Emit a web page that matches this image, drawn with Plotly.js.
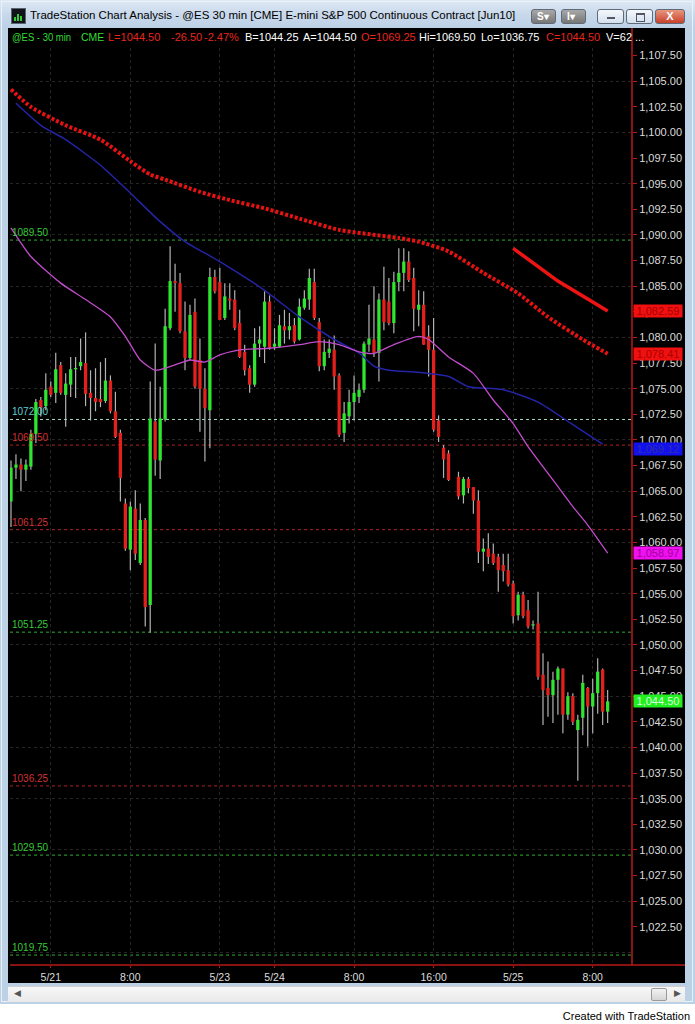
<!DOCTYPE html>
<html>
<head>
<meta charset="utf-8">
<script src="https://cdn.plot.ly/plotly-3.0.1.min.js"></script>
<style>
  html,body{margin:0;padding:0;}
  body{width:695px;height:1024px;background:#ffffff;position:relative;overflow:hidden;font-family:"Liberation Sans",Arial,sans-serif;}
  #frame{position:absolute;left:0;top:0;width:695px;height:1004px;background:linear-gradient(#dfe9f4 0px,#c9d9eb 14px,#bcd0e6 28px,#bcd0e6 100%);}
  #frame2{position:absolute;left:1px;top:1px;width:692px;height:1001px;border:1px solid #e9f1f9;box-sizing:border-box;}
  #chart{position:absolute;left:8px;top:28px;width:677px;height:955px;background:#000;}
  #title{position:absolute;left:30px;top:9px;font-size:11.5px;color:#000;white-space:nowrap;}
  #icon{position:absolute;left:11px;top:8px;width:13px;height:14px;background:#101418;border:1px solid #5a6470;}
  #icon i{position:absolute;bottom:2px;width:2px;background:#3c3;}
  .btn{position:absolute;top:9px;height:15px;border:1px solid #5e6a78;border-radius:3px;box-sizing:border-box;}
  .btnd{background:linear-gradient(#a8a8a8,#767676);color:#fff;font-size:10px;font-weight:bold;line-height:13px;padding-left:5px;}
  .btnw{background:linear-gradient(#f4f8fc,#d3e0ee);}
  #info{position:absolute;left:8px;top:28px;width:624px;height:19px;z-index:5;font-size:11px;line-height:19px;white-space:nowrap;}
  #info span{position:absolute;top:0;transform-origin:0 50%;}
  #scroll{position:absolute;left:8px;top:986px;width:677px;height:16px;background:linear-gradient(#f7f7f7,#e9e9e9);border-top:1px solid #d0d0d0;box-sizing:border-box;}
  #thumb{position:absolute;left:643px;top:1px;width:16px;height:13px;background:linear-gradient(#f2f2f2,#d6d6d6);border:1px solid #9a9a9a;border-radius:2px;box-sizing:border-box;}
  #footer{position:absolute;right:5px;top:1010px;font-size:11px;color:#000;white-space:nowrap;}
</style>
</head>
<body>
<div id="frame"><div id="frame2"></div></div>
<div id="icon"><i style="left:2px;height:4px"></i><i style="left:5px;height:7px"></i><i style="left:8px;height:5px"></i></div>
<div id="title">TradeStation Chart Analysis - @ES 30 min [CME] E-mini S&amp;P 500 Continuous Contract [Jun10]</div>
<div class="btn btnd" style="left:531px;width:25px;">S&#9662;</div>
<div class="btn btnd" style="left:561px;width:25px;">I&#9662;</div>
<div class="btn btnw" style="left:597px;width:27px;"><div style="position:absolute;left:9px;top:7px;width:8px;height:2px;background:#556;"></div></div>
<div class="btn btnw" style="left:626px;width:27px;"><div style="position:absolute;left:9px;top:3px;width:7px;height:6px;border:1px solid #556;border-top-width:2px;"></div></div>
<div class="btn" style="left:655px;width:30px;background:linear-gradient(#e9967e,#c8402a);"><div style="position:absolute;left:0;width:100%;top:0;text-align:center;color:#fff;font-size:11px;font-weight:bold;line-height:13px;">X</div></div>
<div id="chart"></div>
<div id="info"></div>
<div id="scroll"><div style="position:absolute;left:6px;top:1px;font-size:9px;color:#555;">&#9664;</div><div id="thumb"></div><div style="position:absolute;left:666px;top:1px;font-size:9px;color:#555;">&#9654;</div></div>
<div id="footer">Created with TradeStation</div>
<script>
// ---------------- DATA ----------------
// OHLC of the 30-minute bars (in order)
const opens  = [1064.0,1067.3,1067.6,1067.1,1067.4,1070.6,1073.9,1073.3,1075.2,1074.6,
  1077.3,1074.4,1075.4,1076.9,1077.2,1077.5,1074.6,1074.1,1074.0,1073.8,
  1075.8,1072.8,1070.7,1063.8,1059.3,1063.3,1058.0,1062.2,1053.9,1071.8,
  1068.0,1072.0,1080.9,1085.5,1085.3,1080.6,1078.0,1082.5,1077.8,1075.0,
  1072.9,1085.9,1085.4,1081.9,1083.8,1083.7,1081.4,1078.6,1077.0,1075.4,
  1079.4,1079.1,1083.5,1079.1,1079.1,1081.1,1080.7,1081.2,1079.8,1082.9,
  1083.7,1085.4,1081.5,1077.2,1078.5,1078.8,1076.3,1070.7,1072.3,1073.7,
  1074.2,1074.9,1079.3,1079.8,1078.5,1083.7,1083.5,1081.4,1085.4,1086.3,
  1087.4,1085.8,1082.7,1083.2,1080.1,1078.8,1071.9,1069.25,1068.7,1066.4,
  1064.6,1066.2,1065.4,1064.1,1059.1,1059.4,1058.9,1058.6,1057.8,1057.3,
  1056.0,1052.9,1054.9,1053.4,1051.9,1052.1,1047.1,1045.8,1045.1,1046.6,
  1047.7,1043.2,1045.0,1041.7,1042.9,1045.8,1044.0,1045.3,1047.6,1043.5];
const highs  = [1068.0,1068.6,1068.2,1068.1,1071.0,1074.0,1074.2,1076.5,1075.7,1078.5,
  1077.6,1076.5,1078.1,1078.1,1079.9,1080.5,1076.8,1077.0,1077.6,1078.0,
  1076.3,1074.7,1071.0,1064.3,1064.0,1065.1,1063.8,1062.4,1075.7,1079.4,
  1075.2,1082.8,1088.9,1087.2,1086.3,1083.5,1083.2,1083.8,1079.9,1077.0,
  1086.8,1086.6,1086.8,1085.3,1085.3,1084.6,1082.7,1079.3,1077.3,1080.9,
  1081.1,1084.5,1084.1,1080.9,1082.2,1082.7,1082.4,1081.9,1083.8,1084.6,
  1086.7,1086.7,1081.9,1079.8,1079.8,1080.2,1076.5,1073.7,1074.9,1076.3,
  1075.5,1079.6,1083.2,1085.0,1084.3,1086.9,1085.8,1086.4,1088.7,1088.7,
  1088.4,1086.8,1084.6,1084.5,1081.2,1081.9,1072.4,1069.5,1069.0,1066.9,
  1066.4,1066.4,1065.4,1065.1,1060.4,1060.9,1059.9,1058.9,1058.9,1058.9,
  1056.3,1055.2,1055.2,1054.4,1052.4,1055.2,1049.2,1048.4,1047.4,1047.9,
  1047.7,1045.4,1045.3,1043.2,1047.1,1045.9,1046.7,1048.7,1047.7,1045.6];
const lows   = [1061.5,1066.2,1065.0,1066.0,1067.1,1069.7,1072.3,1072.9,1074.2,1073.6,
  1074.4,1071.3,1074.2,1074.1,1076.8,1073.3,1071.9,1072.8,1073.2,1073.6,
  1072.6,1070.2,1064.0,1059.2,1057.3,1058.3,1057.8,1051.8,1051.2,1066.5,
  1066.2,1071.8,1080.7,1082.5,1080.4,1076.8,1077.8,1075.0,1070.8,1067.9,
  1069.2,1084.3,1081.7,1081.7,1082.7,1080.7,1078.0,1076.3,1074.6,1075.2,
  1078.1,1077.5,1078.8,1078.8,1079.0,1079.4,1079.8,1079.4,1079.7,1082.7,
  1082.7,1081.7,1076.7,1076.8,1078.0,1074.9,1070.3,1069.8,1071.6,1071.9,
  1073.6,1074.6,1078.6,1078.1,1075.7,1080.7,1081.2,1080.4,1084.5,1084.5,
  1085.4,1080.6,1081.1,1079.3,1076.2,1070.8,1069.8,1066.3,1066.0,1064.2,
  1063.8,1064.8,1062.8,1058.0,1057.2,1057.9,1057.8,1055.2,1056.2,1055.7,
  1052.1,1052.4,1052.6,1051.6,1051.5,1046.6,1042.2,1043.0,1042.4,1043.2,
  1041.4,1042.7,1042.2,1036.75,1041.2,1040.1,1041.4,1043.3,1042.2,1042.4];
const closes = [1067.3,1067.6,1067.1,1067.6,1070.6,1073.7,1073.1,1074.9,1074.4,1076.9,
  1074.6,1075.5,1076.9,1077.0,1077.6,1074.5,1074.1,1073.7,1073.7,1075.8,
  1072.8,1070.3,1066.3,1059.4,1063.5,1058.9,1062.2,1053.7,1072.1,1068.1,
  1072.1,1081.1,1085.5,1085.3,1080.6,1078.0,1082.2,1075.2,1075.0,1073.1,
  1085.9,1084.5,1081.7,1084.0,1083.6,1080.9,1078.1,1076.8,1075.4,1079.4,
  1079.8,1083.5,1079.0,1079.4,1081.2,1080.7,1081.1,1079.6,1083.0,1083.8,
  1085.8,1081.9,1077.2,1078.6,1078.9,1076.2,1070.5,1072.6,1073.7,1074.6,
  1074.9,1079.4,1079.9,1078.5,1083.7,1081.5,1081.4,1085.4,1086.3,1087.4,
  1085.6,1082.8,1083.2,1079.3,1078.8,1071.0,1070.3,1068.1,1066.1,1064.5,
  1066.2,1065.3,1064.1,1059.1,1059.4,1058.6,1058.0,1057.3,1057.2,1055.9,
  1052.8,1054.9,1052.8,1051.8,1052.0,1046.9,1045.6,1045.1,1046.6,1047.7,
  1043.2,1045.0,1042.5,1042.7,1046.3,1044.0,1045.3,1047.4,1043.5,1044.50];
// session break: one empty bar slot after this bar
const sessionBreakAfter = 88;

// x-axis labels (bar slot -> label)
const xTickSlots  = [8, 24, 42, 53, 69, 85, 101, 117];
const xTickLabels = ['5/21', '8:00', '5/23', '5/24', '8:00', '16:00', '5/25', '8:00'];

// price-axis labels
const yTickValues = [1022.5,1025,1027.5,1030,1032.5,1035,1037.5,1040,1042.5,1045,1047.5,1050,
  1052.5,1055,1057.5,1060,1062.5,1065,1067.5,1070,1072.5,1075,1077.5,1080,1082.5,1085,
  1087.5,1090,1092.5,1095,1097.5,1100,1102.5,1105,1107.5];

// slow moving average (red dotted), read at bar slots
const slowMaSlots  = [0, 4, 11, 18, 24, 28, 31, 38, 44, 51, 58, 66, 78, 82, 88, 95, 102, 108, 115, 120];
const slowMaValues = [1104.2,1102.5,1100.7,1099.3,1097.2,1095.9,1095.4,1094.2,1093.4,1092.6,
  1091.6,1090.5,1089.7,1089.35,1088.4,1086.3,1084.3,1082.0,1079.8,1078.41];

// short red trend segment
const trendSlots  = [101, 110, 120];
const trendValues = [1088.7, 1085.5, 1082.59];

// blue moving average
const blueMaSlots  = [1, 6, 11, 18, 24, 30, 35, 42, 51, 58, 65, 70, 73, 76, 82, 88, 92, 99, 106, 113, 119];
const blueMaValues = [1102.85,1100.7,1099.3,1096.8,1094.1,1091.3,1089.35,1087.4,1084.6,1082.0,
  1079.8,1078.5,1077.2,1076.8,1076.6,1076.2,1075.2,1074.9,1073.7,1071.5,1069.6];

// magenta moving average
const pinkMaSlots  = [0, 4, 10, 15, 20, 23, 26, 29, 31, 34, 36, 39, 42, 46, 52, 58, 62, 66, 70, 73,
  77, 82, 84, 88, 93, 97, 101, 104, 109, 113, 116, 120];
const pinkMaValues = [1090.7,1087.9,1085.3,1083.7,1082.0,1080.1,1077.8,1076.8,1077.0,1077.5,
  1077.8,1077.6,1078.3,1078.8,1078.95,1079.3,1079.6,1079.3,1078.6,1078.45,
  1079.3,1080.1,1079.8,1078.1,1076.5,1073.9,1071.6,1069.35,1066.1,1063.5,1061.7,1058.97];

// horizontal price levels
const levels = [1089.50, 1072.00, 1069.50, 1061.25, 1051.25, 1036.25, 1029.50, 1019.75];
const levelKinds = ['g', 'c', 'r', 'r', 'g', 'r', 'g', 'g'];

// last-value markers on the price axis
const lastValues = [1082.59, 1078.41, 1069.12, 1058.97, 1044.50];
const lastKinds  = ['red', 'red', 'blue', 'pink', 'green'];

// info bar
const infoTexts = ['@ES - 30 min', 'CME', 'L=1044.50', '-26.50', '-2.47%', 'B=1044.25', 'A=1044.50',
  'O=1069.25', 'Hi=1069.50', 'Lo=1036.75', 'C=1044.50', 'V=62 ...'];

// ---------------- STYLE ----------------
const infoStyle = [[4,'#33dd33',0.86],[73,'#33dd33',0.95],[100,'#e8261e',1],[163,'#e8261e',1],[196,'#e8261e',1],[237,'#ffffff',1],
  [295,'#ffffff',1],[353,'#e8261e',1],[411,'#ffffff',1],[473,'#ffffff',1],[538,'#e8261e',1],[598,'#ffffff',1]];
const info = document.getElementById('info');
infoTexts.forEach((t, k) => {
  const s = document.createElement('span');
  s.textContent = t; s.style.left = infoStyle[k][0] + 'px'; s.style.color = infoStyle[k][1];
  s.style.transform = 'scaleX(' + infoStyle[k][2] + ')';
  info.appendChild(s);
});

const UP = '#2fe52f', DN = '#e3201c', WICK = '#b4b4b4';
const levelStyle = {g: {line: '#2fae2f', text: '#37c837'}, c: {line: '#a6dcc0', text: '#5fd0d0'}, r: {line: '#b02222', text: '#d23030'}};
const lastStyle = {red: {bg: '#f01010', fg: '#a80000'}, blue: {bg: '#1010f0', fg: '#3030a0'},
  pink: {bg: '#f010f0', fg: '#a000a0'}, green: {bg: '#20f020', fg: '#d8ffd8'}};

// bar slots (with the session gap)
const slots = opens.map((_, i) => i > sessionBreakAfter ? i + 1 : i);
const bodyBase = opens.map((o, i) => Math.min(o, closes[i]));
const bodyLen = opens.map((o, i) => Math.max(Math.abs(closes[i] - o), 0.12));
const bodyCol = opens.map((o, i) => closes[i] >= o ? UP : DN);
const wickLen = highs.map((h, i) => h - lows[i]);

const traces = [
  {type: 'scatter', mode: 'lines', x: slowMaSlots, y: slowMaValues, line: {color: '#e81212', width: 4, dash: '3px,2px', shape: 'spline', smoothing: 0.6}, hoverinfo: 'skip'},
  {type: 'scatter', mode: 'lines', x: trendSlots, y: trendValues, line: {color: '#ee1414', width: 3.5}, hoverinfo: 'skip'},
  {type: 'scatter', mode: 'lines', x: blueMaSlots, y: blueMaValues, line: {color: '#2424a8', width: 1.5, shape: 'spline', smoothing: 0.6}, hoverinfo: 'skip'},
  {type: 'scatter', mode: 'lines', x: pinkMaSlots, y: pinkMaValues, line: {color: '#c24ccc', width: 1.3, shape: 'spline', smoothing: 0.6}, hoverinfo: 'skip'},
  {type: 'bar', x: slots, y: wickLen, base: lows, width: 0.24, marker: {color: WICK, line: {width: 0}}, hoverinfo: 'skip'},
  {type: 'bar', x: slots, y: bodyLen, base: bodyBase, width: 0.66, marker: {color: bodyCol, line: {width: 0}}, hoverinfo: 'skip'}
];

const shapes = levels.map((v, k) => ({
  type: 'line', xref: 'paper', x0: 0, x1: 1, yref: 'y', y0: v, y1: v,
  line: {color: levelStyle[levelKinds[k]].line, width: 1, dash: '3px,3px'}, layer: 'below'
}));
// red frame lines of the chart window
shapes.push({type: 'line', xref: 'paper', x0: 1, x1: 1, yref: 'paper', y0: 0, y1: 1 + 20 / 917, line: {color: '#b81818', width: 1.5}});
shapes.push({type: 'line', xref: 'paper', x0: 0, x1: 1 + 53 / 622, yref: 'paper', y0: 0, y1: 0, line: {color: '#b81818', width: 1.5}});

const annotations = levels.map((v, k) => ({
  xref: 'paper', x: 0, xanchor: 'left', yref: 'y', y: v, yanchor: 'bottom', yshift: 0,
  text: v.toFixed(2), showarrow: false, font: {family: 'Liberation Sans, Arial', size: 10, color: levelStyle[levelKinds[k]].text}
}));
lastValues.forEach((v, k) => {
  const st = lastStyle[lastKinds[k]];
  annotations.push({
    xref: 'paper', x: 1, xanchor: 'left', xshift: 1, yref: 'y', y: v, yanchor: 'middle',
    text: v.toLocaleString('en-US', {minimumFractionDigits: 2, maximumFractionDigits: 2}),
    showarrow: false, bgcolor: st.bg, width: 48, height: 12, borderpad: 0, align: 'center',
    font: {family: 'Liberation Sans, Arial', size: 11, color: st.fg}
  });
});

const layout = {
  width: 677, height: 955,
  margin: {l: 2, r: 53, t: 20, b: 18, pad: 0},
  paper_bgcolor: '#000000', plot_bgcolor: '#000000',
  showlegend: false, barmode: 'overlay', dragmode: false,
  font: {family: 'Liberation Sans, Arial', color: '#dcdcdc'},
  xaxis: {
    range: [-0.2, 124.9], tickvals: xTickSlots, ticktext: xTickLabels,
    ticks: 'outside', ticklen: 2, tickcolor: '#b81818', tickfont: {size: 10.5, color: '#dcdcdc'},
    showgrid: true, gridcolor: '#262626', griddash: 'dot', gridwidth: 1,
    zeroline: false, showline: false, fixedrange: true
  },
  yaxis: {
    range: [1018.78, 1108.24], side: 'right', tickvals: yTickValues, tickformat: ',.2f',
    ticks: 'outside', ticklen: 4, tickcolor: '#b81818', tickfont: {size: 11, color: '#dcdcdc'},
    showgrid: false, zeroline: false, showline: false, fixedrange: true
  },
  yaxis2: {
    range: [1018.78, 1108.24], overlaying: 'y', side: 'left', dtick: 5, tick0: 0,
    showticklabels: false, ticks: '', showgrid: true, gridcolor: '#262626', griddash: 'dot',
    zeroline: false, showline: false, fixedrange: true
  },
  shapes: shapes, annotations: annotations
};
// a dummy trace to activate the grid axis
traces.unshift({type: 'scatter', mode: 'lines', x: [0], y: [1050], yaxis: 'y2', line: {width: 0}, hoverinfo: 'skip'});

Plotly.newPlot('chart', traces, layout, {displayModeBar: false, staticPlot: true});
</script>
</body>
</html>
